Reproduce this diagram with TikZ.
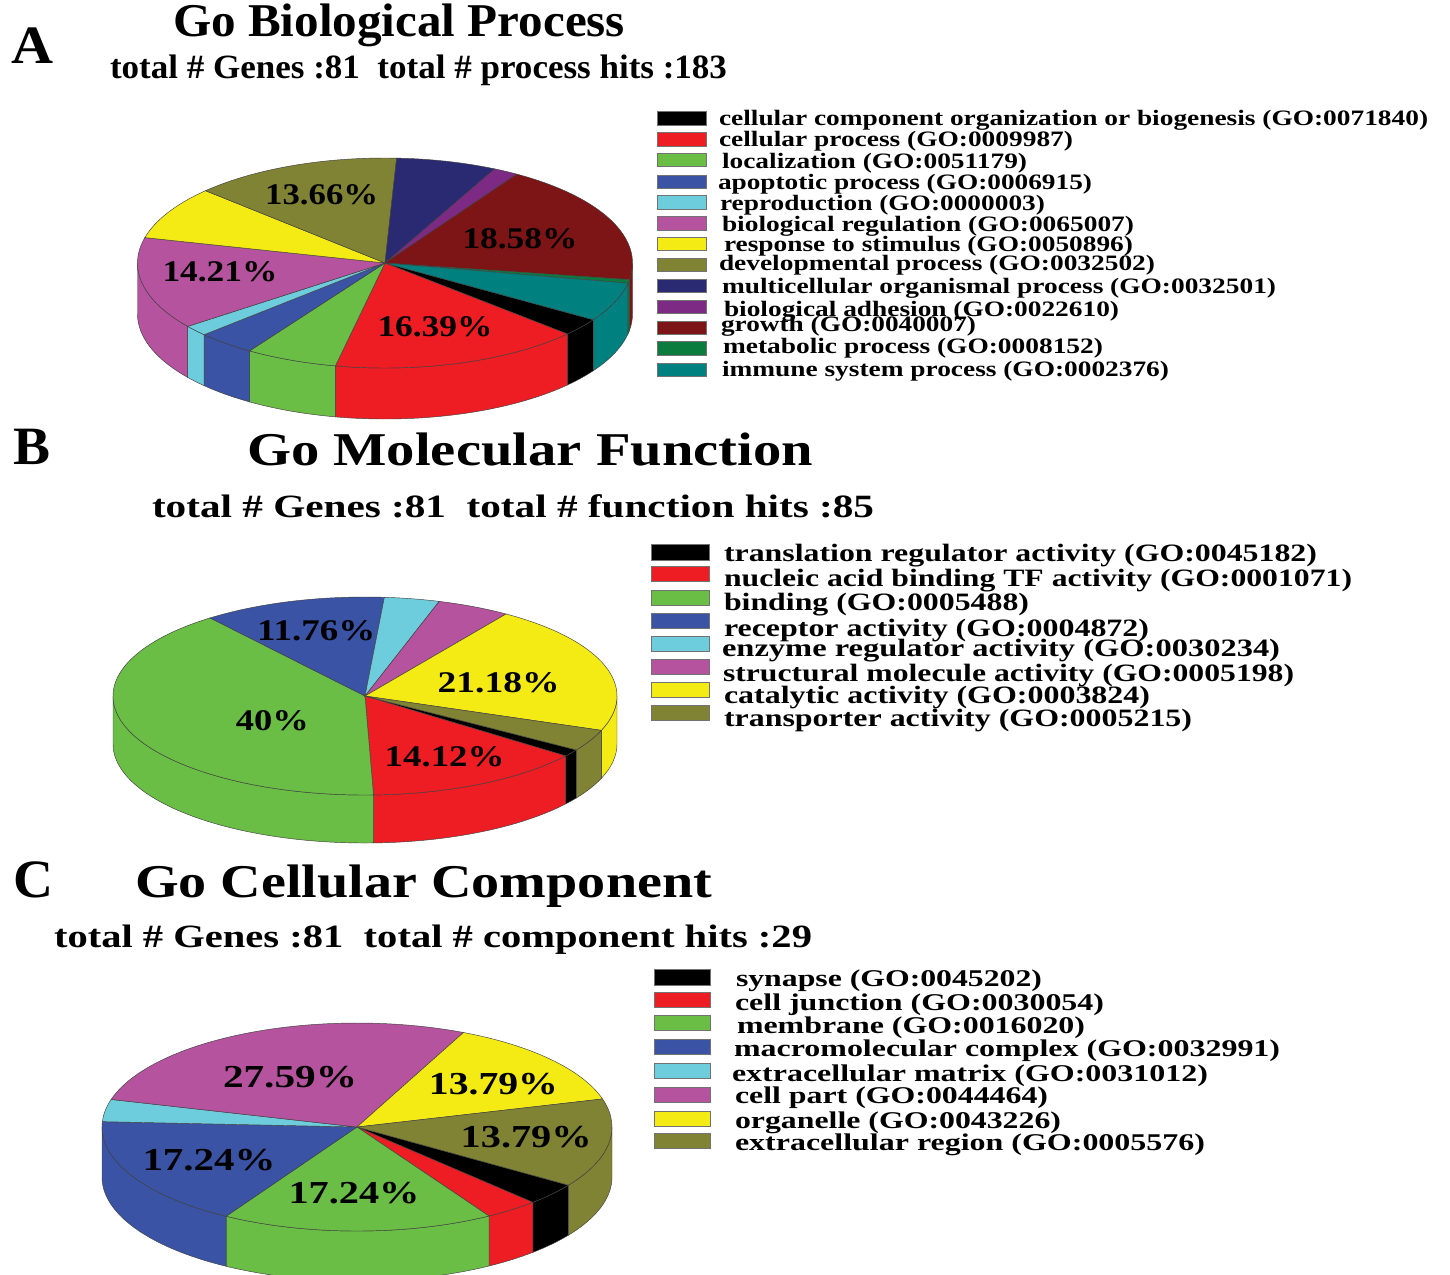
\documentclass[tikz,border=0pt]{standalone}
\usepackage{fontspec}
\setmainfont{Liberation Serif}
\usepackage{graphicx}
\definecolor{gblack}{HTML}{000000}
\definecolor{gred}{HTML}{EE1D23}
\definecolor{ggreen}{HTML}{6ABD45}
\definecolor{gblue}{HTML}{3A53A4}
\definecolor{glblue}{HTML}{6DCDDD}
\definecolor{gmag}{HTML}{B5539E}
\definecolor{gyel}{HTML}{F5EB14}
\definecolor{golive}{HTML}{808234}
\definecolor{gnavy}{HTML}{2A2A72}
\definecolor{gpurple}{HTML}{7D2A84}
\definecolor{gdred}{HTML}{7D1416}
\definecolor{gmgreen}{HTML}{0B7C3E}
\definecolor{gteal}{HTML}{00807F}
\tikzset{
  pieline/.style={draw=black!75, line width=0.45pt},
  swatch/.style={draw=black!55, line width=0.6pt},
  txt/.style={anchor=base west, inner sep=0pt, outer sep=0pt},
  pct/.style={anchor=center, inner sep=0pt, outer sep=0pt},
}
\newcommand\fsz[1]{\fontsize{#1}{#1}\selectfont\bfseries}
\newcommand\wt[2]{\resizebox{#1pt}{\height}{#2}}
% #1 cx, #2 cy (screen), #3 rx, #4 ry, #5 depth, #6 start angle, #7 total, #8 list count/colour
\newcommand\gopie[8]{%
\begin{scope}[shift={(#1,#2)}, yscale=-1]
  \xdef\gpacc{0}%
  \foreach \n/\c in {#8}{%
    \pgfmathsetmacro\gphi{#6-\gpacc/#7*360}%
    \pgfmathsetmacro\gplo{\gphi-\n/#7*360}%
    \pgfmathsetmacro\gplon{mod(mod(\gplo,360)+360,360)}%
    \pgfmathsetmacro\gphin{\gplon+\n/#7*360}%
    \pgfmathsetmacro\gpsa{max(\gplon,180)}%
    \pgfmathsetmacro\gpea{min(\gphin,360)}%
    \ifdim\gpea pt>\gpsa pt
      \filldraw[fill=\c, pieline] (\gpsa:#3 and #4) arc[start angle=\gpsa, end angle=\gpea, x radius=#3, y radius=#4] -- ++(0,-#5) arc[start angle=\gpea, end angle=\gpsa, x radius=#3, y radius=#4] -- cycle;
    \fi
    \pgfmathsetmacro\gpsb{max(\gplon,540)}%
    \pgfmathsetmacro\gpeb{min(\gphin,720)}%
    \ifdim\gpeb pt>\gpsb pt
      \filldraw[fill=\c, pieline] (\gpsb:#3 and #4) arc[start angle=\gpsb, end angle=\gpeb, x radius=#3, y radius=#4] -- ++(0,-#5) arc[start angle=\gpeb, end angle=\gpsb, x radius=#3, y radius=#4] -- cycle;
    \fi
    \pgfmathsetmacro\gpnew{\gpacc+\n}%
    \xdef\gpacc{\gpnew}%
  }%
  \xdef\gpacc{0}%
  \foreach \n/\c in {#8}{%
    \pgfmathsetmacro\gphi{#6-\gpacc/#7*360}%
    \pgfmathsetmacro\gplo{\gphi-\n/#7*360}%
    \filldraw[fill=\c, pieline] (0,0) -- (\gphi:#3 and #4) arc[start angle=\gphi, end angle=\gplo, x radius=#3, y radius=#4] -- cycle;
    \pgfmathsetmacro\gpnew{\gpacc+\n}%
    \xdef\gpacc{\gpnew}%
  }%
\end{scope}}
\begin{document}
\begin{tikzpicture}[x=1pt,y=-1pt]
\useasboundingbox (0,0) rectangle (1450,1274);
\fill[white] (0,0) rectangle (1450,1274);
\clip (0,0) rectangle (1450,1274);

% ---------------- A ----------------
\node[txt, font=\fsz{54}] (labA) at (12,63) {\wt{42}{A}};
\node[txt, font=\fsz{47}] (titA) at (173,36.7) {\wt{452}{Go Biological Process}};
\node[txt, font=\fsz{34}] (subA) at (110,78.3) {\wt{617}{total \# Genes :81~ total \# process hits :183}};

\gopie{385}{263}{247.5}{105}{51}{-32.7}{183}{5/gblack,30/gred,11/ggreen,7/gblue,3/glblue,26/gmag,15/gyel,25/golive,12/gnavy,3/gpurple,34/gdred,1/gmgreen,11/gteal}

\node[pct, font=\fsz{30}] (pA1) at (321.7,195) {\wt{113}{13.66\%}};
\node[pct, font=\fsz{30}] (pA2) at (520,238.3) {\wt{115}{18.58\%}};
\node[pct, font=\fsz{30}] (pA3) at (220,271.7) {\wt{115}{14.21\%}};
\node[pct, font=\fsz{30}] (pA4) at (435,326.7) {\wt{115}{16.39\%}};

\foreach \i/\ya/\yb/\c in {1/111.7/125/gblack,2/132.7/146/gred,3/153.3/166.7/ggreen,4/175/188.3/gblue,5/195.7/209/glblue,6/216.7/230/gmag,7/237.3/250.7/gyel,8/258.3/271.7/golive,9/279/292.3/gnavy,10/300/313.3/gpurple,11/321/334.3/gdred,12/341.7/355/gmgreen,13/363.3/376.7/gteal}
  \filldraw[swatch, fill=\c] (657,\ya) rectangle (706,\yb);

\node[txt, font=\fsz{22}] (lA1) at (719,125) {\wt{709}{cellular component organization or biogenesis (GO:0071840)}};
\node[txt, font=\fsz{22}] (lA2) at (719,146.7) {\wt{354}{cellular process (GO:0009987)}};
\node[txt, font=\fsz{22}] (lA3) at (722,168) {\wt{305}{localization (GO:0051179)}};
\node[txt, font=\fsz{22}] (lA4) at (718,189) {\wt{374}{apoptotic process (GO:0006915)}};
\node[txt, font=\fsz{22}] (lA5) at (720,210) {\wt{325}{reproduction (GO:0000003)}};
\node[txt, font=\fsz{22}] (lA6) at (722,231.7) {\wt{412}{biological regulation (GO:0065007)}};
\node[txt, font=\fsz{22}] (lA7) at (724,251.7) {\wt{409}{response to stimulus (GO:0050896)}};
\node[txt, font=\fsz{22}] (lA8) at (719,270) {\wt{436}{developmental process (GO:0032502)}};
\node[txt, font=\fsz{22}] (lA9) at (722,293) {\wt{554}{multicellular organismal process (GO:0032501)}};
\node[txt, font=\fsz{22}] (lA10) at (724,316.7) {\wt{395}{biological adhesion (GO:0022610)}};
\node[txt, font=\fsz{22}] (lA11) at (721,331.7) {\wt{255}{growth (GO:0040007)}};
\node[txt, font=\fsz{22}] (lA12) at (723,353) {\wt{380}{metabolic process (GO:0008152)}};
\node[txt, font=\fsz{22}] (lA13) at (722,376.7) {\wt{447}{immune system process (GO:0002376)}};

% ---------------- B ----------------
\node[txt, font=\fsz{54}] (labB) at (13,464) {\wt{37}{B}};
\node[txt, font=\fsz{47}] (titB) at (247,465) {\wt{566}{Go Molecular Function}};
\node[txt, font=\fsz{32.5}] (subB) at (152,517) {\wt{722}{total \# Genes :81~ total \# function hits :85}};

\gopie{365}{696}{252}{99}{48}{-33}{85}{1/gblack,12/gred,34/ggreen,10/gblue,3/glblue,4/gmag,18/gyel,3/golive}

\node[pct, font=\fsz{30}] (pB1) at (316.2,630.5) {\wt{118}{11.76\%}};
\node[pct, font=\fsz{30}] (pB2) at (498.6,682.5) {\wt{122}{21.18\%}};
\node[pct, font=\fsz{30}] (pB3) at (272.3,721) {\wt{73}{40\%}};
\node[pct, font=\fsz{30}] (pB4) at (444.6,756.5) {\wt{120}{14.12\%}};

\foreach \i/\ya/\yb/\c in {1/544.3/560/gblack,2/566.7/581.7/gred,3/590/605/ggreen,4/613.3/628.3/gblue,5/636.7/651.7/glblue,6/659/674/gmag,7/682.3/697.3/gyel,8/705/720/golive}
  \filldraw[swatch, fill=\c] (651,\ya) rectangle (709,\yb);

\node[txt, font=\fsz{25}] (lB1) at (724,561.7) {\wt{593}{translation regulator activity (GO:0045182)}};
\node[txt, font=\fsz{25}] (lB2) at (724,586.7) {\wt{628}{nucleic acid binding TF activity (GO:0001071)}};
\node[txt, font=\fsz{25}] (lB3) at (724,610) {\wt{305}{binding (GO:0005488)}};
\node[txt, font=\fsz{25}] (lB4) at (724,636.7) {\wt{425}{receptor activity (GO:0004872)}};
\node[txt, font=\fsz{25}] (lB5) at (722,656.7) {\wt{558}{enzyme regulator activity (GO:0030234)}};
\node[txt, font=\fsz{25}] (lB6) at (723,681.7) {\wt{571}{structural molecule activity (GO:0005198)}};
\node[txt, font=\fsz{25}] (lB7) at (724,703.3) {\wt{426}{catalytic activity (GO:0003824)}};
\node[txt, font=\fsz{25}] (lB8) at (724,726.7) {\wt{468}{transporter activity (GO:0005215)}};

% ---------------- C ----------------
\node[txt, font=\fsz{54}] (labC) at (13,897) {\wt{40}{C}};
\node[txt, font=\fsz{47}] (titC) at (135,897) {\wt{577}{Go Cellular Component}};
\node[txt, font=\fsz{32.5}] (subC) at (54,947) {\wt{758}{total \# Genes :81~ total \# component hits :29}};

\gopie{357}{1127}{255}{104}{50}{-34}{29}{1/gblack,1/gred,5/ggreen,5/gblue,1/glblue,8/gmag,4/gyel,4/golive}

\node[pct, font=\fsz{32}] (pC1) at (290,1077) {\wt{134}{27.59\%}};
\node[pct, font=\fsz{32}] (pC2) at (493.4,1084) {\wt{129}{13.79\%}};
\node[pct, font=\fsz{32}] (pC3) at (526.2,1137) {\wt{131}{13.79\%}};
\node[pct, font=\fsz{32}] (pC4) at (209,1160.5) {\wt{133}{17.24\%}};
\node[pct, font=\fsz{32}] (pC5) at (354,1193) {\wt{131}{17.24\%}};

\foreach \i/\ya/\yb/\c in {1/969/985/gblack,2/992/1007/gred,3/1015/1030/ggreen,4/1039/1054/gblue,5/1063/1078/glblue,6/1087/1102/gmag,7/1111/1126/gyel,8/1133/1148/golive}
  \filldraw[swatch, fill=\c] (654,\ya) rectangle (710,\yb);

\node[txt, font=\fsz{24}] (lC1) at (736,986.7) {\wt{306}{synapse (GO:0045202)}};
\node[txt, font=\fsz{24}] (lC2) at (735,1010) {\wt{369}{cell junction (GO:0030054)}};
\node[txt, font=\fsz{24}] (lC3) at (737,1033) {\wt{348}{membrane (GO:0016020)}};
\node[txt, font=\fsz{24}] (lC4) at (734,1056.7) {\wt{546}{macromolecular complex (GO:0032991)}};
\node[txt, font=\fsz{24}] (lC5) at (732,1081.7) {\wt{476}{extracellular matrix (GO:0031012)}};
\node[txt, font=\fsz{24}] (lC6) at (735,1103.3) {\wt{313}{cell part (GO:0044464)}};
\node[txt, font=\fsz{24}] (lC7) at (735,1128) {\wt{326}{organelle (GO:0043226)}};
\node[txt, font=\fsz{24}] (lC8) at (735,1150) {\wt{470}{extracellular region (GO:0005576)}};
\end{tikzpicture}
\end{document}
